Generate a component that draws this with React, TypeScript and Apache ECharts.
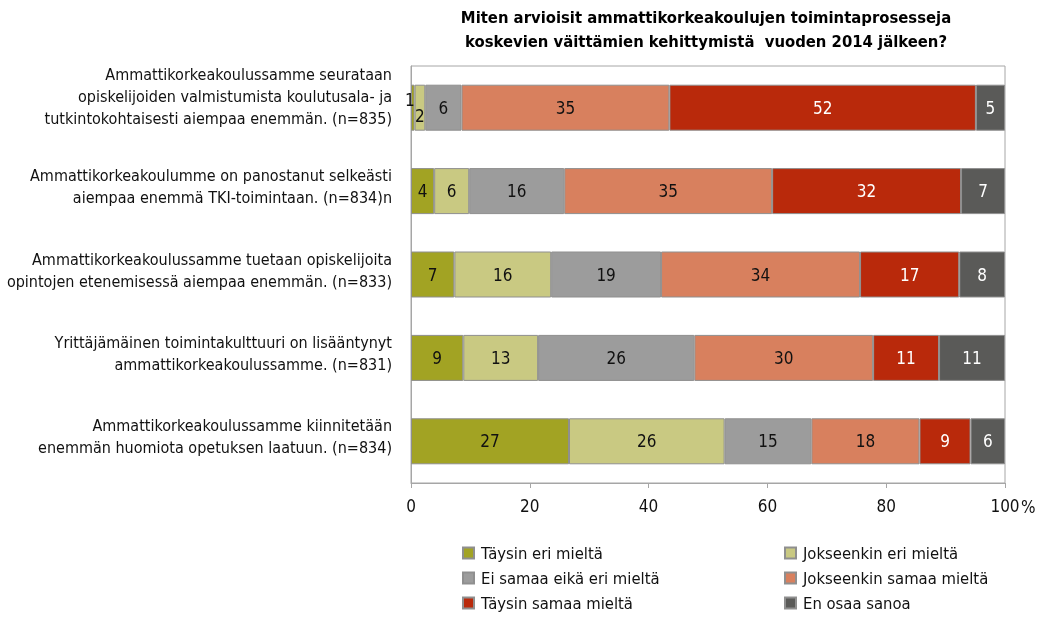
import React, { useEffect, useRef } from "react";
import * as echarts from "echarts";

const titleText =
  "Miten arvioisit ammattikorkeakoulujen toimintaprosesseja\nkoskevien väittämien kehittymistä  vuoden 2014 jälkeen?";

const categories = [
  "Ammattikorkeakoulussamme seurataan\nopiskelijoiden valmistumista koulutusala- ja\ntutkintokohtaisesti aiempaa enemmän. (n=835)",
  "Ammattikorkeakoulumme on panostanut selkeästi\naiempaa enemmä TKI-toimintaan. (n=834)n",
  "Ammattikorkeakoulussamme tuetaan opiskelijoita\nopintojen etenemisessä aiempaa enemmän. (n=833)",
  "Yrittäjämäinen toimintakulttuuri on lisääntynyt\nammattikorkeakoulussamme. (n=831)",
  "Ammattikorkeakoulussamme kiinnitetään\nenemmän huomiota opetuksen laatuun. (n=834)",
];

const seriesNames = [
  "Täysin eri mieltä",
  "Jokseenkin eri mieltä",
  "Ei samaa eikä eri mieltä",
  "Jokseenkin samaa mieltä",
  "Täysin samaa mieltä",
  "En osaa sanoa",
];

const taysinEri = [0.6, 3.9, 7.3, 8.8, 26.6];
const jokseenkinEri = [1.8, 5.9, 16.3, 12.6, 26.2];
const eiSamaaEikaEri = [6.1, 16.0, 18.5, 26.3, 14.6];
const jokseenkinSamaa = [35.0, 35.0, 33.5, 30.1, 18.2];
const taysinSamaa = [51.6, 31.8, 16.7, 11.1, 8.6];
const enOsaa = [4.9, 7.4, 7.7, 11.1, 5.8];

const seriesValues = [taysinEri, jokseenkinEri, eiSamaaEikaEri, jokseenkinSamaa, taysinSamaa, enOsaa];

const xTicks = { min: 0, max: 100, interval: 20 };

const colors = ["#a2a323", "#c9c982", "#9c9c9c", "#d8805e", "#b9290b", "#5a5a58"];
const labelColors = ["#111", "#111", "#111", "#111", "#fff", "#fff"];

const FONT = "'Liberation Sans Narrow', 'DejaVu Sans Condensed', 'Open Sans', sans-serif";

// legend placement: [left, centerY]
const legendPos = [
  [462, 553],
  [784, 553],
  [462, 578],
  [784, 578],
  [462, 603],
  [784, 603],
];

export default function App() {
  const ref = useRef<HTMLDivElement>(null);
  useEffect(() => {
    if (!ref.current) return;
    const chart = echarts.init(ref.current, null, { renderer: "svg" });
    const series = seriesNames.map((name, si) => ({
      name,
      type: "bar",
      stack: "total",
      barWidth: 46,
      itemStyle: { color: colors[si], borderColor: "#8f8f8f", borderWidth: 1 },
      label: {
        show: true,
        position: "inside",
        color: labelColors[si],
        fontFamily: FONT,
        fontSize: 17,
        formatter: (p: any) => String(Math.round(p.value)),
      },
      data: seriesValues[si].map((v, ci) => {
        if (ci === 0 && si === 0) return { value: v, label: { offset: [-3, -8] } };
        if (ci === 0 && si === 1) return { value: v, label: { offset: [0, 8] } };
        return v;
      }),
    }));

    chart.setOption({
      animation: false,
      textStyle: { fontFamily: FONT },
      title: {
        text: titleText,
        left: 701,
        top: 0,
        textAlign: "center",
        textStyle: { fontFamily: FONT, fontSize: 16.5, fontWeight: "bold", color: "#000", lineHeight: 24 },
      },
      grid: {
        left: 411,
        top: 66,
        width: 594,
        height: 417,
        show: true,
        borderColor: "#a6a6a6",
        borderWidth: 1,
        containLabel: false,
        outerBoundsMode: "none",
      },
      xAxis: {
        type: "value",
        min: xTicks.min,
        max: xTicks.max,
        interval: xTicks.interval,
        axisLine: { show: true, lineStyle: { color: "#a6a6a6" } },
        axisTick: { show: true, length: 5, lineStyle: { color: "#a6a6a6" } },
        splitLine: { show: false },
        axisLabel: { color: "#111", fontFamily: FONT, fontSize: 17, margin: 14 },
      },
      yAxis: {
        type: "category",
        inverse: true,
        data: categories,
        axisLine: { show: true, lineStyle: { color: "#a6a6a6" } },
        axisTick: { show: false },
        axisLabel: {
          color: "#111",
          fontFamily: FONT,
          fontSize: 16,
          lineHeight: 22,
          margin: 19,
          align: "right",
          formatter: (value: string, index: number) =>
            value + (index === 0 ? "\n{sp1| }" : "\n{sp2| }"),
          rich: {
            sp1: { fontSize: 1, lineHeight: 22 },
            sp2: { fontSize: 1, lineHeight: 9 },
          },
        },
      },
      legend: seriesNames.map((name, i) => ({
        data: [name],
        left: legendPos[i][0],
        top: legendPos[i][1] - 10,
        padding: 0,
        itemWidth: 11,
        itemHeight: 11,
        itemGap: 0,
        icon: "rect",
        textStyle: { fontFamily: FONT, fontSize: 16.5, color: "#111", lineHeight: 20, padding: [0, 0, 0, 2] },
      })),
      graphic: [
        {
          type: "text",
          left: 1021,
          top: 498,
          style: { text: "%", fontFamily: FONT, fontSize: 17, fill: "#111" },
        },
      ],
      series,
    });
    return () => chart.dispose();
  }, []);
  return (
    <div
      ref={ref}
      style={{ position: "fixed", left: 0, top: 0, width: 1038, height: 619 }}
    />
  );
}
